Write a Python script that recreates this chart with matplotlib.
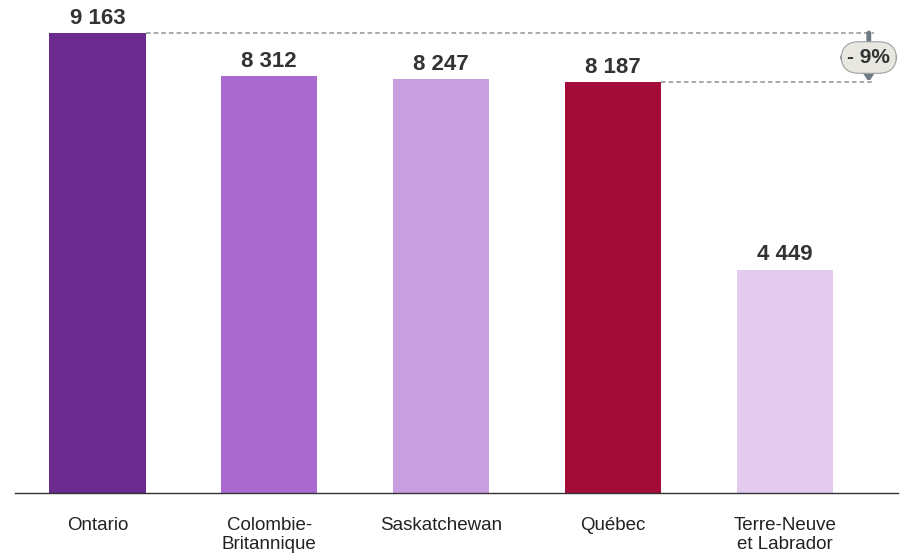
import matplotlib
matplotlib.use("Agg")
import matplotlib.pyplot as plt
from matplotlib.patches import FancyArrowPatch

plt.rcParams['font.family'] = ['Liberation Sans', 'DejaVu Sans']

categories = ["Ontario", "Colombie-\nBritannique", "Saskatchewan", "Québec", "Terre-Neuve\net Labrador"]
values = [9163, 8312, 8247, 8187, 4449]
value_labels = ["9 163", "8 312", "8 247", "8 187", "4 449"]
colors = ["#6B2A8E", "#A96AD0", "#C89EE0", "#A30C38", "#E3CBEF"]
diff_label = "- 9%"

fig = plt.figure(figsize=(9.03, 5.59), dpi=100)
ax = fig.add_axes([15/903, 66/559, (898-15)/903, 493/559])

x = list(range(len(categories)))
bw = 0.56
ax.bar(x, values, width=bw, color=colors, zorder=2)

ax.set_xlim(-0.48, 4.66)
ax.set_ylim(0, 9821)

for xi, v, lab in zip(x, values, value_labels):
    ax.annotate(lab, (xi, v), xytext=(0, 3), textcoords="offset points",
                ha="center", va="bottom", fontsize=16, fontweight="bold", color="#333333")

# dashed reference lines
xr = 4.52
ax.plot([0 + bw/2, xr], [values[0], values[0]], ls=(0, (3, 2)), color="#8A9399", lw=1.1, zorder=1)
ax.plot([3 + bw/2, xr], [values[3], values[3]], ls=(0, (3, 2)), color="#8A9399", lw=1.1, zorder=1)

xa = 4.49
arr = FancyArrowPatch((xa, values[0]), (xa, values[3]), arrowstyle="-|>,head_length=6,head_width=4",
                      color="#6E7B84", lw=3.5, mutation_scale=1.5, shrinkA=0, shrinkB=0, zorder=3)
ax.add_patch(arr)
ax.text(xa, (values[0] + values[3]) / 2, diff_label, ha="center", va="center", fontsize=15,
        fontweight="bold", color="#333333", zorder=4,
        bbox=dict(boxstyle="round,pad=0.3,rounding_size=0.85", fc="#E8E8E0", ec="#A0A0A0", lw=0.8))

for s in ["top", "right", "left"]:
    ax.spines[s].set_visible(False)
ax.spines["bottom"].set_color("#333333")
ax.spines["bottom"].set_linewidth(1.0)
ax.set_yticks([])
ax.set_xticks(x)
ax.set_xticklabels(categories, fontsize=13.5, color="#222222", linespacing=1.22)
ax.tick_params(axis="x", length=0, pad=17)

fig.savefig("out.png", dpi=100)
